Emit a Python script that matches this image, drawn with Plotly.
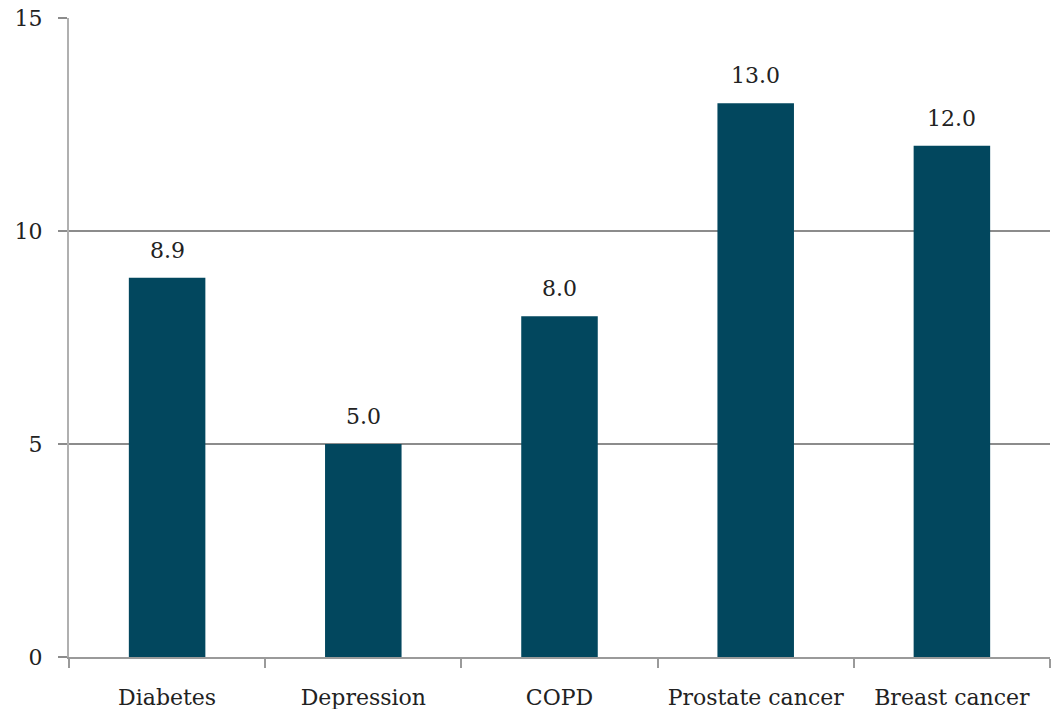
import plotly.graph_objects as go

categories = ["Diabetes", "Depression", "COPD", "Prostate cancer", "Breast cancer"]
values = [8.9, 5.0, 8.0, 13.0, 12.0]
labels = ["8.9", "5.0", "8.0", "13.0", "12.0"]
y_ticks = [0, 5, 10, 15]

FONT = "DejaVu Serif"
SIZE = 22
BAR = "#02475e"
GRID = "#8c8c8c"
TEXT = "#222222"

fig = go.Figure(
    go.Bar(
        x=categories,
        y=values,
        marker=dict(color=BAR, line=dict(width=0)),
        width=0.39,
        hoverinfo="x+y",
    )
)

# value labels above each bar
for cat, val, lab in zip(categories, values, labels):
    fig.add_annotation(
        x=cat, y=val, text=lab, showarrow=False,
        yanchor="bottom", yshift=13,
        font=dict(family=FONT, size=SIZE, color=TEXT),
    )

fig.update_layout(
    width=1055,
    height=709,
    margin=dict(l=69, r=5, t=18, b=52),
    plot_bgcolor="white",
    paper_bgcolor="white",
    showlegend=False,
    font=dict(family=FONT, size=SIZE, color=TEXT),
)

fig.update_xaxes(
    automargin=False,
    tickson="boundaries",
    ticks="outside",
    ticklen=9,
    tickwidth=2,
    tickcolor="#9a9a9a",
    ticklabelstandoff=20,
    showline=True,
    linecolor="#9a9a9a",
    linewidth=2,
    showgrid=False,
    tickfont=dict(family=FONT, size=SIZE, color=TEXT),
)

fig.update_yaxes(
    automargin=False,
    range=[0, 15],
    tickvals=y_ticks,
    ticks="outside",
    ticklen=9,
    tickwidth=2,
    tickcolor=GRID,
    ticklabelstandoff=11,
    showline=True,
    linecolor="#b0b0b0",
    linewidth=2,
    showgrid=True,
    gridcolor=GRID,
    gridwidth=2,
    zeroline=False,
    tickfont=dict(family=FONT, size=SIZE, color=TEXT),
)

fig.write_html("out.html")
